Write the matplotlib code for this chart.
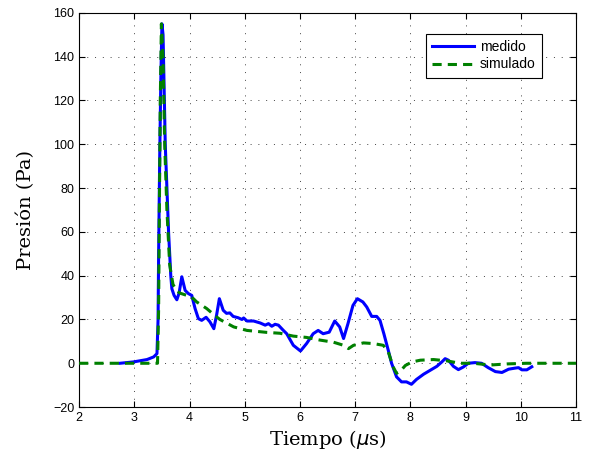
import matplotlib
matplotlib.use('Agg')
import matplotlib.pyplot as plt

# medido (blue)
t_med = [2.74, 2.98, 3.23, 3.35, 3.41, 3.43, 3.44, 3.46, 3.48, 3.50, 3.52, 3.54,
         3.56, 3.59, 3.62, 3.66, 3.68, 3.72, 3.77, 3.81, 3.86, 3.92, 3.98, 4.04,
         4.10, 4.16, 4.22, 4.30, 4.37, 4.44, 4.49, 4.54, 4.61, 4.67, 4.73, 4.79,
         4.88, 4.95, 4.98, 5.04, 5.16, 5.28, 5.37, 5.43, 5.49, 5.55, 5.61, 5.70,
         5.76, 5.88, 6.01, 6.12, 6.24, 6.33, 6.42, 6.53, 6.63, 6.72, 6.79, 6.87,
         6.96, 7.04, 7.14, 7.21, 7.30, 7.39, 7.45, 7.52, 7.60, 7.66, 7.75, 7.84,
         7.93, 8.02, 8.11, 8.24, 8.36, 8.48, 8.57, 8.63, 8.69, 8.78, 8.87, 8.96,
         9.05, 9.17, 9.29, 9.41, 9.54, 9.66, 9.78, 9.90, 9.96, 10.02, 10.11, 10.20]
p_med = [0.0, 0.6, 1.7, 2.9, 4.4, 20, 50, 95, 130, 155, 150, 125,
         100, 80, 60, 40, 34, 31, 29, 32, 39.5, 33.3, 31.8, 31,
         25, 20.4, 19.6, 21, 18.9, 15.8, 22, 29.5, 24.2, 22.8, 23, 21.4,
         20.8, 20, 20.7, 19.3, 19.3, 18.4, 17.4, 18.1, 16.9, 17.8, 17.4, 15,
         13.5, 8.2, 5.6, 9, 13.5, 15, 13.5, 14.2, 19.3, 16.6, 11.3, 18.1,
         26.4, 29.5, 28, 25.7, 21.4, 21.4, 19.6, 13.5, 5.9, 0, -6.2, -8.5,
         -8.5, -9.6, -7.4, -5, -3.2, -1.4, 0.6, 2.1, 1.4, -1.4, -2.9, -1.7,
         0, 0.3, 0, -2, -3.8, -4.2, -2.7, -2.2, -2, -3, -3, -1.6]

# simulado (green)
t_sim = [2.0, 3.0, 3.42, 3.44, 3.45, 3.47, 3.49, 3.52, 3.55, 3.59, 3.64, 3.70,
         3.77, 3.83, 3.95, 4.07, 4.13, 4.31, 4.45, 4.55, 4.80, 5.04, 5.40, 5.64,
         5.88, 6.12, 6.36, 6.61, 6.79, 6.88, 6.97, 7.15, 7.33, 7.51, 7.60, 7.69,
         7.75, 7.84, 7.91, 8.03, 8.18, 8.42, 8.66, 8.90, 9.14, 9.45, 9.75, 10.1, 11.0]
p_sim = [0, 0, 0, 25, 60, 120, 155, 140, 100, 70, 45, 36,
         33, 32, 31, 29.5, 28, 25, 22, 20, 16.6, 15, 14.1, 13.7,
         12.4, 11.8, 10.6, 9.6, 8.2, 6.7, 8.2, 9.3, 9, 8.2, 5.2, -1.7,
         -4.6, -3, -1, 0.6, 1.4, 1.7, 1.1, 0, 0, -0.8, -0.3, 0, 0]

fig = plt.figure(figsize=(5.95, 4.61), dpi=100)
ax = fig.add_axes([0.133, 0.117, 0.835, 0.855])

ax.plot(t_med, p_med, color='#0000ff', lw=2.2, label='medido', zorder=3)
ax.plot(t_sim, p_sim, color='#008000', lw=2.2, ls=(0, (3, 2)), label='simulado', zorder=4)

ax.set_xlim(2, 11)
ax.set_ylim(-20, 160)
ax.set_xticks(range(2, 12))
ax.set_yticks(range(-20, 161, 20))
ax.tick_params(direction='in', top=True, right=True, labelsize=9, length=4)
ax.set_yticklabels([str(v).replace('-', '\u2212') for v in range(-20, 161, 20)])
for lbl in ax.get_xticklabels() + ax.get_yticklabels():
    lbl.set_family('Liberation Sans')
ax.grid(True, ls=(0, (1, 7)), color='#444444', lw=0.7)

ax.set_xlabel(r'Tiempo ($\mu$s)', family='DejaVu Serif', fontsize=14, labelpad=3)
ax.set_ylabel('Presión (Pa)', family='DejaVu Serif', fontsize=14, labelpad=13)

leg = ax.legend(loc='upper right', bbox_to_anchor=(0.945, 0.965), fancybox=False,
                edgecolor='black', framealpha=1, prop={'family': 'Liberation Sans', 'size': 10},
                handlelength=3.0, borderpad=0.45, labelspacing=0.25, handletextpad=0.4)
leg.get_frame().set_linewidth(0.8)

fig.savefig('out.png', dpi=100)
